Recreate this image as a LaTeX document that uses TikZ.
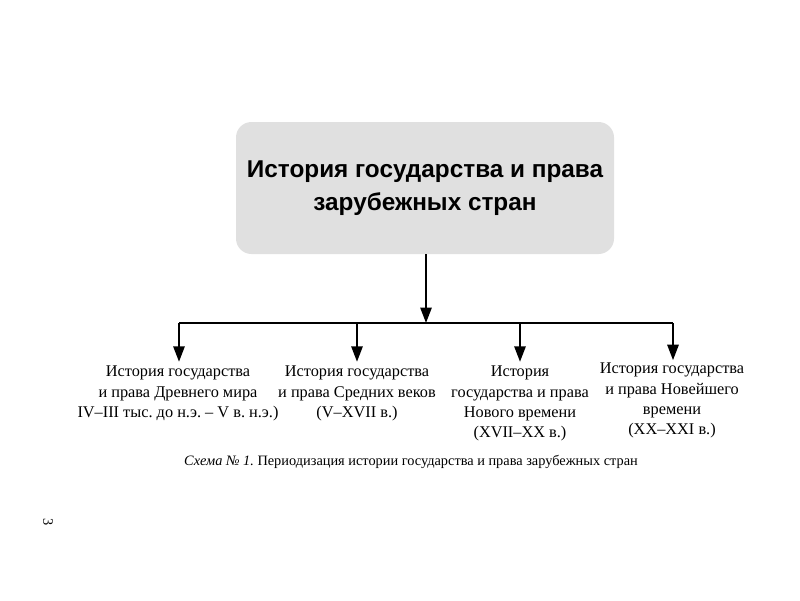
\documentclass[tikz,border=0pt]{standalone}
\usepackage{fontspec}
\setmainfont{Liberation Serif}
\newfontfamily\headfont{Liberation Sans}
\usetikzlibrary{arrows.meta}
\frenchspacing
\begin{document}
\begin{tikzpicture}[x=0.025cm,y=-0.025cm,
  conn/.style={line width=1.5pt},
  arr/.style={conn,-{Triangle[length=11pt,width=8pt]}},
  headbox/.style={fill=black!12,rounded corners=11pt,minimum width=378*0.025cm,minimum height=132*0.025cm,inner sep=0pt,align=center,font=\headfont\bfseries\fontsize{17.3}{23}\selectfont},
  childtext/.style={align=center,inner sep=0pt,anchor=north,font=\fontsize{11.6}{14.4}\selectfont},
  captext/.style={font=\fontsize{10.2}{12}\selectfont,inner sep=0pt}]
\useasboundingbox (0,0) rectangle (800,600);
\node[headbox] (top) at (425,188) {История государства и права\\зарубежных стран};
\coordinate (j) at (426,323);
\coordinate (hl) at (179,323);
\coordinate (hr) at (673,323);
\coordinate (c1) at (179,323);
\coordinate (c2) at (357,323);
\coordinate (c3) at (520,323);
\coordinate (c4) at (673,323);
\node[childtext] (t1) at (178,366) {История государства\\и права Древнего мира\\IV–III тыс. до н.э. – V в. н.э.)};
\node[childtext] (t2) at (357,366) {История государства\\и права Средних веков\\(V–XVII в.)};
\node[childtext] (t3) at (520,366) {История\\государства и права\\Нового времени\\(XVII–XX в.)};
\node[childtext] (t4) at (672,363) {История государства\\и права Новейшего\\времени\\(XX–XXI в.)};
\draw[arr] (top.south -| j) -- (j);
\draw[conn] (hl) -- (hr);
\draw[arr] (c1) -- ([yshift=3pt]c1 |- t1.north);
\draw[arr] (c2) -- ([yshift=3pt]c2 |- t2.north);
\draw[arr] (c3) -- ([yshift=3pt]c3 |- t3.north);
\draw[arr] (c4) -- ([yshift=2pt]c4 |- t4.north);
\node[captext] (cap) at (411,462) {\textit{Схема № 1.} Периодизация истории государства и права зарубежных стран};
\node[captext,rotate=-90] (pg) at (48,522) {3};
\end{tikzpicture}
\end{document}
